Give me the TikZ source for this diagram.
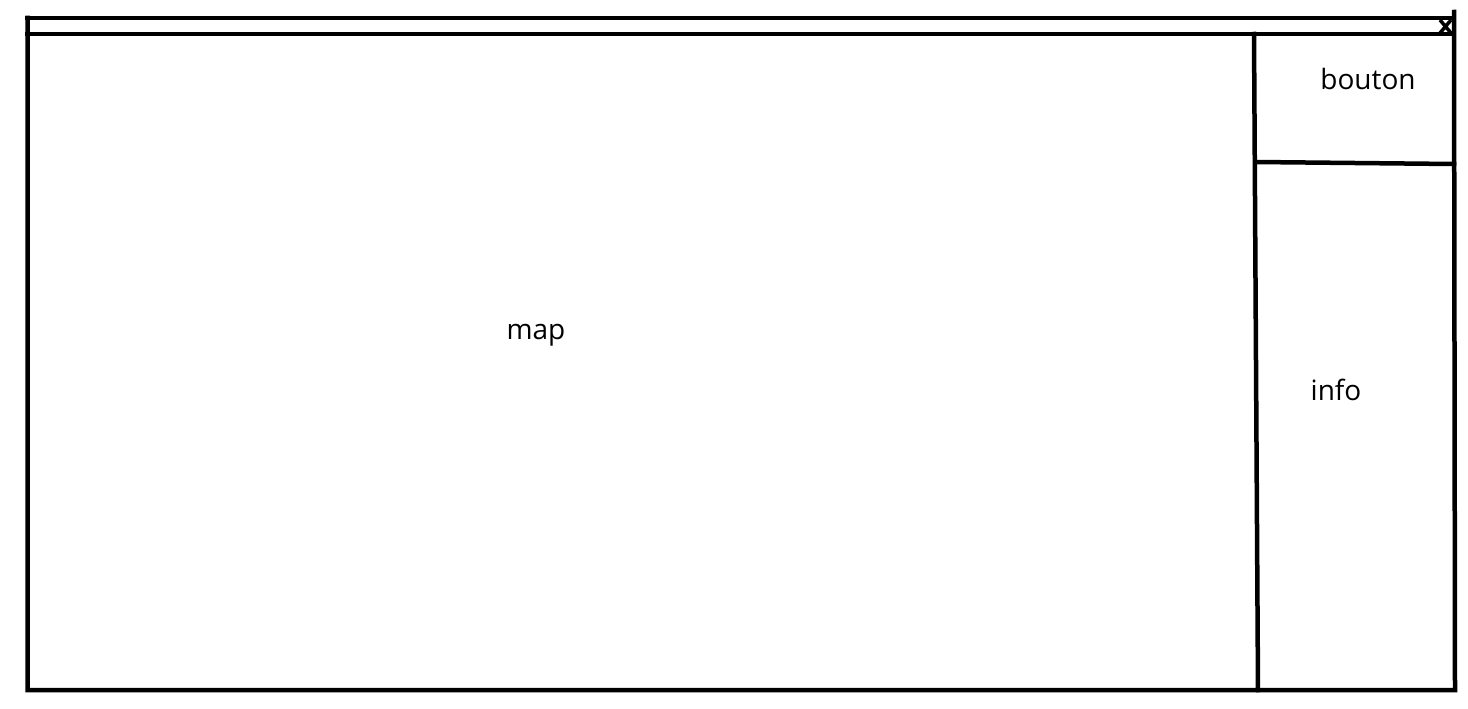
\documentclass[tikz,border=0pt]{standalone}
\usepackage{fontspec}
\setmainfont{Open Sans}
\begin{document}
\begin{tikzpicture}[x=1pt,y=-1pt,
  frame/.style={line width=4.5pt,line cap=rect,line join=miter},
  lbl/.style={font=\fontsize{28}{32}\selectfont,inner sep=0pt,anchor=base}]
\useasboundingbox (0,0) rectangle (1468,709);
% outer frame
\draw[frame] (27.5,18) -- (1452,18);
\draw[frame] (27.5,18) -- (27.5,690) -- (1455,690) -- (1454,12);
% title bar bottom line
\draw[frame] (27.5,34) -- (1454,34);
% close mark
\draw[line width=3.5pt] (1440,20) -- (1451,33) (1440,33) -- (1451,20);
% side panel divider
\draw[frame] (1254,34) -- (1258,690);
\draw[frame] (1256,162) -- (1454,164);
% labels
\node[lbl] (map) at (536,339) {map};
\node[lbl] (bouton) at (1368,89) {bouton};
\node[lbl] (info) at (1336,400) {info};
\end{tikzpicture}
\end{document}
